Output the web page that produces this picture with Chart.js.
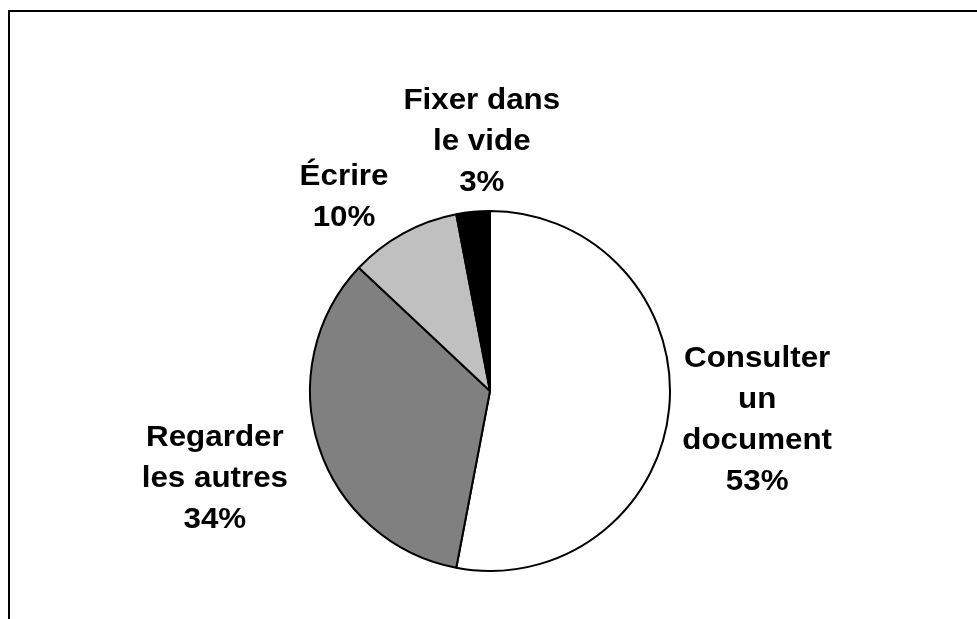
<!DOCTYPE html>
<html>
<head>
<meta charset="utf-8">
<script src="https://cdn.jsdelivr.net/npm/chart.js@4"></script>
<style>
  html, body { margin: 0; padding: 0; background: #ffffff; }
  #wrap { width: 977px; height: 619px; position: relative; }
</style>
</head>
<body>
<div id="wrap"><canvas id="c" width="977" height="619"></canvas></div>
<script>
// ---- data ----
const categories = [
  ['Consulter', 'un', 'document'],
  ['Regarder', 'les autres'],
  ['Écrire'],
  ['Fixer dans', 'le vide']
];
const values = [53, 34, 10, 3];
const sliceColors = ['#ffffff', '#808080', '#c0c0c0', '#000000'];

// ---- label placement tweaks (pixels) ----
const labelNudge = [[-1, 2], [-15, 1], [-32, 11], [15, -6]];

const framePlugin = {
  id: 'frame',
  beforeDraw(chart) {
    const ctx = chart.ctx;
    ctx.save();
    ctx.fillStyle = '#ffffff';
    ctx.fillRect(0, 0, chart.width, chart.height);
    ctx.fillStyle = '#000000';
    ctx.fillRect(8, 10, chart.width - 8, 2);
    ctx.fillRect(8, 10, 2, chart.height - 10);
    ctx.restore();
  }
};

const FONT_SIZE = 30;
const SCALE_X = 1.045;
const LINE_H = 41;
const CAP_H = 21;
const GAP = 8;

const labelPlugin = {
  id: 'outLabels',
  afterDatasetsDraw(chart) {
    const ctx = chart.ctx;
    const meta = chart.getDatasetMeta(0);
    const data = chart.data.datasets[0].data;
    const total = data.reduce((a, b) => a + b, 0);
    ctx.save();
    ctx.font = 'bold ' + FONT_SIZE + 'px "Liberation Sans", Arial, sans-serif';
    ctx.fillStyle = '#000000';
    ctx.textAlign = 'center';
    ctx.textBaseline = 'alphabetic';
    meta.data.forEach((arc, i) => {
      const p = arc.getProps(['x', 'y', 'startAngle', 'endAngle', 'outerRadius'], true);
      const mid = (p.startAngle + p.endAngle) / 2;
      const dx = Math.cos(mid), dy = Math.sin(mid);
      const lines = categories[i].concat([Math.round(data[i] / total * 100) + '%']);
      const w = SCALE_X * Math.max(...lines.map(l => ctx.measureText(l).width));
      const h = (lines.length - 1) * LINE_H + CAP_H;
      const ext = Math.abs(dx) * w / 2 + Math.abs(dy) * h / 2;
      const d = p.outerRadius + GAP + ext;
      const cx = p.x + dx * d + labelNudge[i][0];
      const cy = p.y + dy * d + labelNudge[i][1];
      const firstBase = cy - h / 2 + CAP_H;
      lines.forEach((l, k) => {
        ctx.save();
        ctx.translate(cx, firstBase + k * LINE_H);
        ctx.scale(SCALE_X, 1);
        ctx.fillText(l, 0, 0);
        ctx.restore();
      });
    });
    ctx.restore();
  }
};

new Chart(document.getElementById('c'), {
  type: 'pie',
  data: {
    labels: categories.map(c => c.join(' ')),
    datasets: [{
      data: values,
      backgroundColor: sliceColors,
      borderColor: '#000000',
      borderWidth: 2
    }]
  },
  options: {
    responsive: false,
    animation: false,
    layout: { padding: { top: 210, bottom: 47, left: 200, right: 197 } },
    plugins: {
      legend: { display: false },
      tooltip: { enabled: false }
    }
  },
  plugins: [framePlugin, labelPlugin]
});
</script>
</body>
</html>
